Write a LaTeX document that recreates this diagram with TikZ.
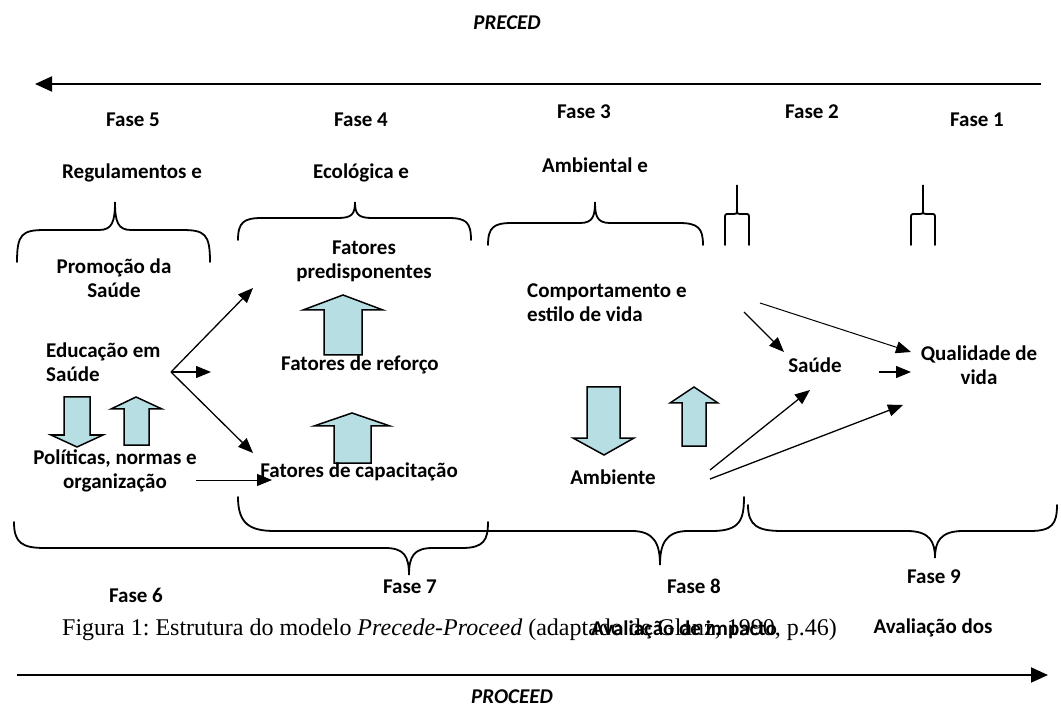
\documentclass[tikz,border=0pt]{standalone}
\usepackage{fontspec}
\setmainfont{Liberation Serif}
\newfontfamily\calibri{Carlito}
\usetikzlibrary{arrows.meta}
\definecolor{arrowblue}{HTML}{B7DEE3}

\begin{document}
\begin{tikzpicture}[
    x=1pt, y=-1pt,
    every node/.style={font=\calibri\bfseries\fontsize{21}{24}\selectfont, inner sep=0pt},
    txt/.style={align=center},
    flow/.style={-{Triangle[length=15pt, width=12pt]}, line width=1.3pt},
    phase/.style={-{Triangle[length=17pt, width=15pt]}, line width=2pt},
    brace/.style={line width=1.8pt, line cap=round},
    block/.style={draw=black, line width=1.5pt, fill=arrowblue}
]
   \useasboundingbox (0,0) rectangle (1061,711);

   % PRECEDE direction
   \node[font=\calibri\bfseries\itshape\fontsize{21}{24}\selectfont] (preced) at (507,23) {PRECED};
   \coordinate (precR) at (1041,84);
   \coordinate (precL) at (35,84);
   \draw[phase] (precR) -- (precL);

   % Phases on top
   \node (f5) at (133,120) {Fase 5};
   \node (f4) at (361,120) {Fase 4};
   \node (f3) at (584,112) {Fase 3};
   \node (f2) at (812,112) {Fase 2};
   \node (f1) at (977,120) {Fase 1};

   \node (regul) at (132,173) {Regulamentos e};
   \node (ecol) at (361,173) {Ecológica e};
   \node (ambe) at (595,165) {Ambiental e};

   % top braces
   \draw[brace] (17,262) .. controls (17,234) and (22,230) .. (45,230) -- (99,230) .. controls (112,230) and (115,222) .. (115,202) .. controls (115,222) and (118,230) .. (131,230) -- (182,230) .. controls (205,230) and (210,234) .. (210,262);
   \draw[brace] (238,240) .. controls (238,222) and (244,218) .. (262,218) -- (338,218) .. controls (352,218) and (355,214) .. (355,202) .. controls (355,214) and (358,218) .. (372,218) -- (448,218) .. controls (466,218) and (471,222) .. (471,240);
   \draw[brace] (488,245) .. controls (488,227) and (494,223) .. (512,223) -- (580,223) .. controls (593,223) and (595,216) .. (595,202) .. controls (595,216) and (597,223) .. (610,223) -- (679,223) .. controls (698,223) and (703,228) .. (703,245);
   \draw[brace] (725,245) -- (725,219) .. controls (725,214) .. (729,214) -- (734,214) .. controls (737,214) .. (737,209) -- (737,185) -- (737,209) .. controls (737,214) .. (740,214) -- (745,214) .. controls (749,214) .. (749,219) -- (749,245);
   \draw[brace] (911,245) -- (911,219) .. controls (911,214) .. (915,214) -- (920,214) .. controls (923,214) .. (923,209) -- (923,185) -- (923,209) .. controls (923,214) .. (926,214) -- (931,214) .. controls (935,214) .. (935,219) -- (935,245);

   % block arrows
   \draw[block] (343,295) -- (383,310) -- (362,310) -- (362,355) -- (324,355) -- (324,310) -- (303,310) -- cycle;
   \draw[block] (352,413) -- (390,426) -- (371,426) -- (371,463) -- (334,463) -- (334,426) -- (314,426) -- cycle;
   \draw[block] (64,397) -- (90,397) -- (90,435) -- (103,435) -- (77,447) -- (51,435) -- (64,435) -- cycle;
   \draw[block] (136,397) -- (162,409) -- (149,409) -- (149,445) -- (124,445) -- (124,409) -- (111,409) -- cycle;
   \draw[block] (587,387) -- (620,387) -- (620,438) -- (634,438) -- (604,455) -- (573,438) -- (587,438) -- cycle;
   \draw[block] (694,387) -- (718,403) -- (706,403) -- (706,446) -- (682,446) -- (682,403) -- (670,403) -- cycle;

   % Contents
   \node[txt] (promo) at (114,278) {Promoção da\\Saúde};
   \node[txt] (fatpred) at (364,261) {Fatores\\predisponentes};
   \node[align=left, anchor=west] (comport) at (527,303) {Comportamento e\\estilo de vida};
   \node[align=left, anchor=west] (edu) at (46,362) {Educação em\\Saúde};
   \node (reforco) at (360,365) {Fatores de reforço};
   \node (saude) at (815,365) {Saúde};
   \node[txt] (qual) at (979,365) {Qualidade de\\vida};
   \node[txt] (polit) at (115,471) {Políticas, normas e\\organização};
   \node (capac) at (359,472) {Fatores de capacitação};
   \node (amb) at (613,477) {Ambiente};

   % connectors
   \coordinate (fan) at (171,372);
   \coordinate (toPred) at (253,288);
   \coordinate (toRef) at (211,372);
   \coordinate (toCap) at (253,453);
   \coordinate (politOut) at (196,480);
   \coordinate (capIn) at (272,480);
   \coordinate (compA) at (744,312);
   \coordinate (saudeIn) at (784,352);
   \coordinate (compB) at (760,303);
   \coordinate (qualIn) at (911,352);
   \coordinate (saudeOut) at (879,372);
   \coordinate (qualMid) at (911,372);
   \coordinate (ambA) at (710,470);
   \coordinate (saudeLow) at (810,390);
   \coordinate (ambB) at (710,479);
   \coordinate (qualLow) at (903,405);

   \draw[flow] (fan) -- (toPred);
   \draw[flow] (fan) -- (toRef);
   \draw[flow] (fan) -- (toCap);
   \draw[flow, line width=1pt] (politOut) -- (capIn);
   \draw[flow] (compA) -- (saudeIn);
   \draw[flow, line width=1pt] (compB) -- (qualIn);
   \draw[flow] (saudeOut) -- (qualMid);
   \draw[flow] (ambA) -- (saudeLow);
   \draw[flow] (ambB) -- (qualLow);

   % bottom braces
   \draw[brace] (14,522) .. controls (14,543) and (22,548) .. (45,548) -- (385,548) .. controls (404,548) and (409,556) .. (409,575) .. controls (409,556) and (414,548) .. (433,548) -- (462,548) .. controls (484,548) and (488,540) .. (488,522);
   \draw[brace] (238,497) .. controls (238,524) and (250,531) .. (275,531) -- (632,531) .. controls (655,531) and (660,545) .. (660,565) .. controls (660,545) and (665,531) .. (688,531) -- (712,531) .. controls (740,531) and (744,520) .. (744,497);
   \draw[brace] (748,505) .. controls (748,526) and (758,531) .. (782,531) -- (907,531) .. controls (930,531) and (935,542) .. (935,558) .. controls (935,542) and (940,531) .. (963,531) -- (1030,531) .. controls (1052,531) and (1057,524) .. (1057,505);

   % Phases at the bottom
   \node (f6) at (136,595) {Fase 6};
   \node (f7) at (410,587) {Fase 7};
   \node (f8) at (694,586) {Fase 8};
   \node (f9) at (934,577) {Fase 9};

   \node[anchor=west, font=\rmfamily\mdseries\upshape\frenchspacing\fontsize{24}{28}\selectfont] (caption) at (62,630)
      {Figura 1: Estrutura do modelo \textit{Precede-Proceed} (adaptado de Glanz, 1990, p.46)};
   \node (avimp) at (684,630) {Avaliação de impacto};
   \node (avdos) at (933,628) {Avaliação dos};

   % PROCEED direction
   \coordinate (procL) at (17,675);
   \coordinate (procR) at (1048,675);
   \draw[phase] (procL) -- (procR);
   \node[font=\calibri\bfseries\itshape\fontsize{21}{24}\selectfont] (proceed) at (512,697) {PROCEED};
\end{tikzpicture}
\end{document}
